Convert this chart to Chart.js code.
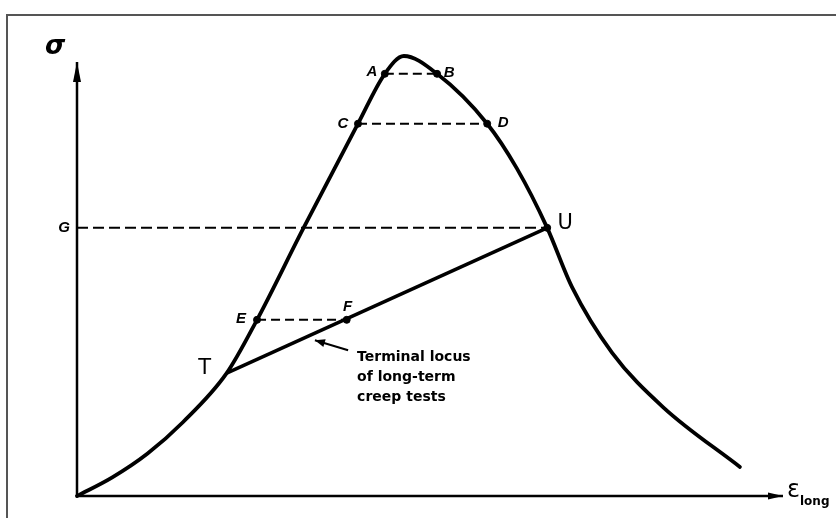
<!DOCTYPE html>
<html>
<head>
<meta charset="utf-8">
<script src="https://cdn.jsdelivr.net/npm/chart.js@4.4.0/dist/chart.umd.min.js"></script>
<style>
  html, body { margin: 0; padding: 0; background: #fff; }
  #wrap { width: 836px; height: 518px; }
</style>
</head>
<body>
<div id="wrap"><canvas id="creepChart" width="836" height="518"></canvas></div>
<script>
// isochronous stress vs. longitudinal strain curve
const curveStrain = [0, 5, 10, 15, 21.2, 25.5, 32.0, 39.8, 43.6, 46.3, 51.0, 58.1, 62.3, 66.6, 70.1, 75.8, 83.0, 93.9];
const curveStress = [0, 4.3, 9.8, 17.0, 28.3, 40.6, 61.5, 85.8, 97.3, 101.4, 97.3, 85.8, 75.5, 61.8, 48.2, 33.0, 20.5, 6.7];

// marked points on the curve
const pointNames  = ['A', 'B', 'C', 'D', 'E', 'F', 'U'];
const pointStrain = [43.6, 51.0, 39.8, 58.1, 25.5, 38.2, 66.6];
const pointStress = [97.3, 97.3, 85.8, 85.8, 40.6, 40.6, 61.8];

// constant-stress levels joined by dashes
const dashLevels = [['A', 'B'], ['C', 'D'], ['E', 'F']];
const levelG = 61.8;

// terminal locus of long-term creep tests, T to U
const locusStrain = [21.2, 66.6];
const locusStress = [28.3, 61.8];

// pointer to the locus line: tail then head
const pointerStrain = [38.4, 33.7];
const pointerStress = [33.6, 35.9];

const axisMax = 100;
const noteLines = ['Terminal locus', 'of long-term', 'creep tests'];

function xy(xs, ys) { return xs.map((x, i) => ({ x, y: ys[i] })); }
function at(name) { const i = pointNames.indexOf(name); return { x: pointStrain[i], y: pointStress[i] }; }

const dashSets = dashLevels.map(([a, b]) => ({
  data: [at(a), at(b)], borderColor: '#000', borderWidth: 2, borderDash: [9, 5],
  pointRadius: 0, showLine: true, clip: false
}));

const letterFont = 'bold italic 15px "Liberation Sans"';
const labelOffsets = {
  A: [-13, -2, letterFont],
  B: [12, -1, letterFont],
  C: [-15, 0, letterFont],
  D: [16, -1, letterFont],
  E: [-16, -1, letterFont],
  F: [1, -13, letterFont],
  U: [18, -4, '21px "DejaVu Sans"']
};

const sketchPlugin = {
  id: 'sketch',
  beforeDraw(chart) {
    const c = chart.ctx;
    c.save();
    c.strokeStyle = '#555';
    c.lineWidth = 2;
    c.beginPath();
    c.moveTo(7, 518); c.lineTo(7, 15); c.lineTo(836, 15);
    c.stroke();
    c.restore();
  },
  afterDatasetsDraw(chart) {
    const c = chart.ctx, xs = chart.scales.x, ys = chart.scales.y;
    const px = v => xs.getPixelForValue(v), py = v => ys.getPixelForValue(v);
    c.save();
    c.fillStyle = '#000';

    function head(tx, ty, fx, fy, len, half) {
      const a = Math.atan2(ty - fy, tx - fx);
      c.beginPath();
      c.moveTo(tx, ty);
      c.lineTo(tx - len * Math.cos(a) + half * Math.sin(a), ty - len * Math.sin(a) - half * Math.cos(a));
      c.lineTo(tx - len * Math.cos(a) - half * Math.sin(a), ty - len * Math.sin(a) + half * Math.cos(a));
      c.closePath();
      c.fill();
    }
    // axis arrowheads
    head(px(0), py(axisMax), px(0), py(0), 20, 4);
    head(px(axisMax), py(0), px(0), py(0), 15, 3.5);
    // pointer arrowhead
    head(px(pointerStrain[1]), py(pointerStress[1]), px(pointerStrain[0]), py(pointerStress[0]), 10, 4);

    // point letters
    c.textAlign = 'center';
    c.textBaseline = 'middle';
    pointNames.forEach((n, i) => {
      const [dx, dy, font] = labelOffsets[n];
      c.font = font;
      c.fillText(n, px(pointStrain[i]) + dx, py(pointStress[i]) + dy);
    });
    c.font = '21px "DejaVu Sans"';
    c.fillText('T', px(locusStrain[0]) - 22, py(locusStress[0]) - 5);
    c.font = letterFont;
    c.fillText('G', px(0) - 13, py(levelG));

    // axis titles
    c.font = 'bold italic 26px "DejaVu Sans"';
    c.fillText('σ', px(0) - 22, py(axisMax) - 15);
    c.textAlign = 'left';
    c.font = '24px "DejaVu Sans"';
    c.fillText('ε', px(axisMax) + 4, py(0) - 5);
    c.font = 'bold 12px "DejaVu Sans"';
    c.fillText('long', px(axisMax) + 17, py(0) + 6);

    // note beside the locus
    c.font = 'bold 14px "DejaVu Sans"';
    c.textBaseline = 'alphabetic';
    noteLines.forEach((t, i) => c.fillText(t, px(pointerStrain[0]) + 9, py(pointerStress[0]) + 11 + i * 20));
    c.restore();
  }
};

new Chart(document.getElementById('creepChart'), {
  type: 'scatter',
  data: {
    datasets: [
      { // axes
        data: [{ x: 0, y: axisMax }, { x: 0, y: 0 }, { x: axisMax, y: 0 }],
        borderColor: '#000', borderWidth: 2.5, pointRadius: 0, showLine: true, clip: false
      },
      { // main curve
        data: xy(curveStrain, curveStress),
        borderColor: '#000', borderWidth: 3.8, pointRadius: 0, showLine: true,
        cubicInterpolationMode: 'monotone', clip: false, borderCapStyle: 'round'
      },
      { // terminal locus
        data: xy(locusStrain, locusStress),
        borderColor: '#000', borderWidth: 3.5, pointRadius: 0, showLine: true, clip: false
      },
      ...dashSets,
      { // G level
        data: [{ x: 0, y: levelG }, at('U')],
        borderColor: '#000', borderWidth: 2, borderDash: [11, 5],
        pointRadius: 0, showLine: true, clip: false
      },
      { // pointer shaft
        data: xy(pointerStrain, pointerStress),
        borderColor: '#000', borderWidth: 2, pointRadius: 0, showLine: true, clip: false
      },
      { // marked points
        data: xy(pointStrain, pointStress),
        backgroundColor: '#000', borderColor: '#000', pointRadius: 3.5, showLine: false, clip: false
      }
    ]
  },
  options: {
    responsive: false,
    animation: false,
    layout: { padding: { left: 77, right: 53, top: 10, bottom: 22 } },
    scales: {
      x: { type: 'linear', min: 0, max: 100, display: false },
      y: { type: 'linear', min: 0, max: 112, display: false }
    },
    plugins: { legend: { display: false }, tooltip: { enabled: false } }
  },
  plugins: [sketchPlugin]
});
</script>
</body>
</html>
